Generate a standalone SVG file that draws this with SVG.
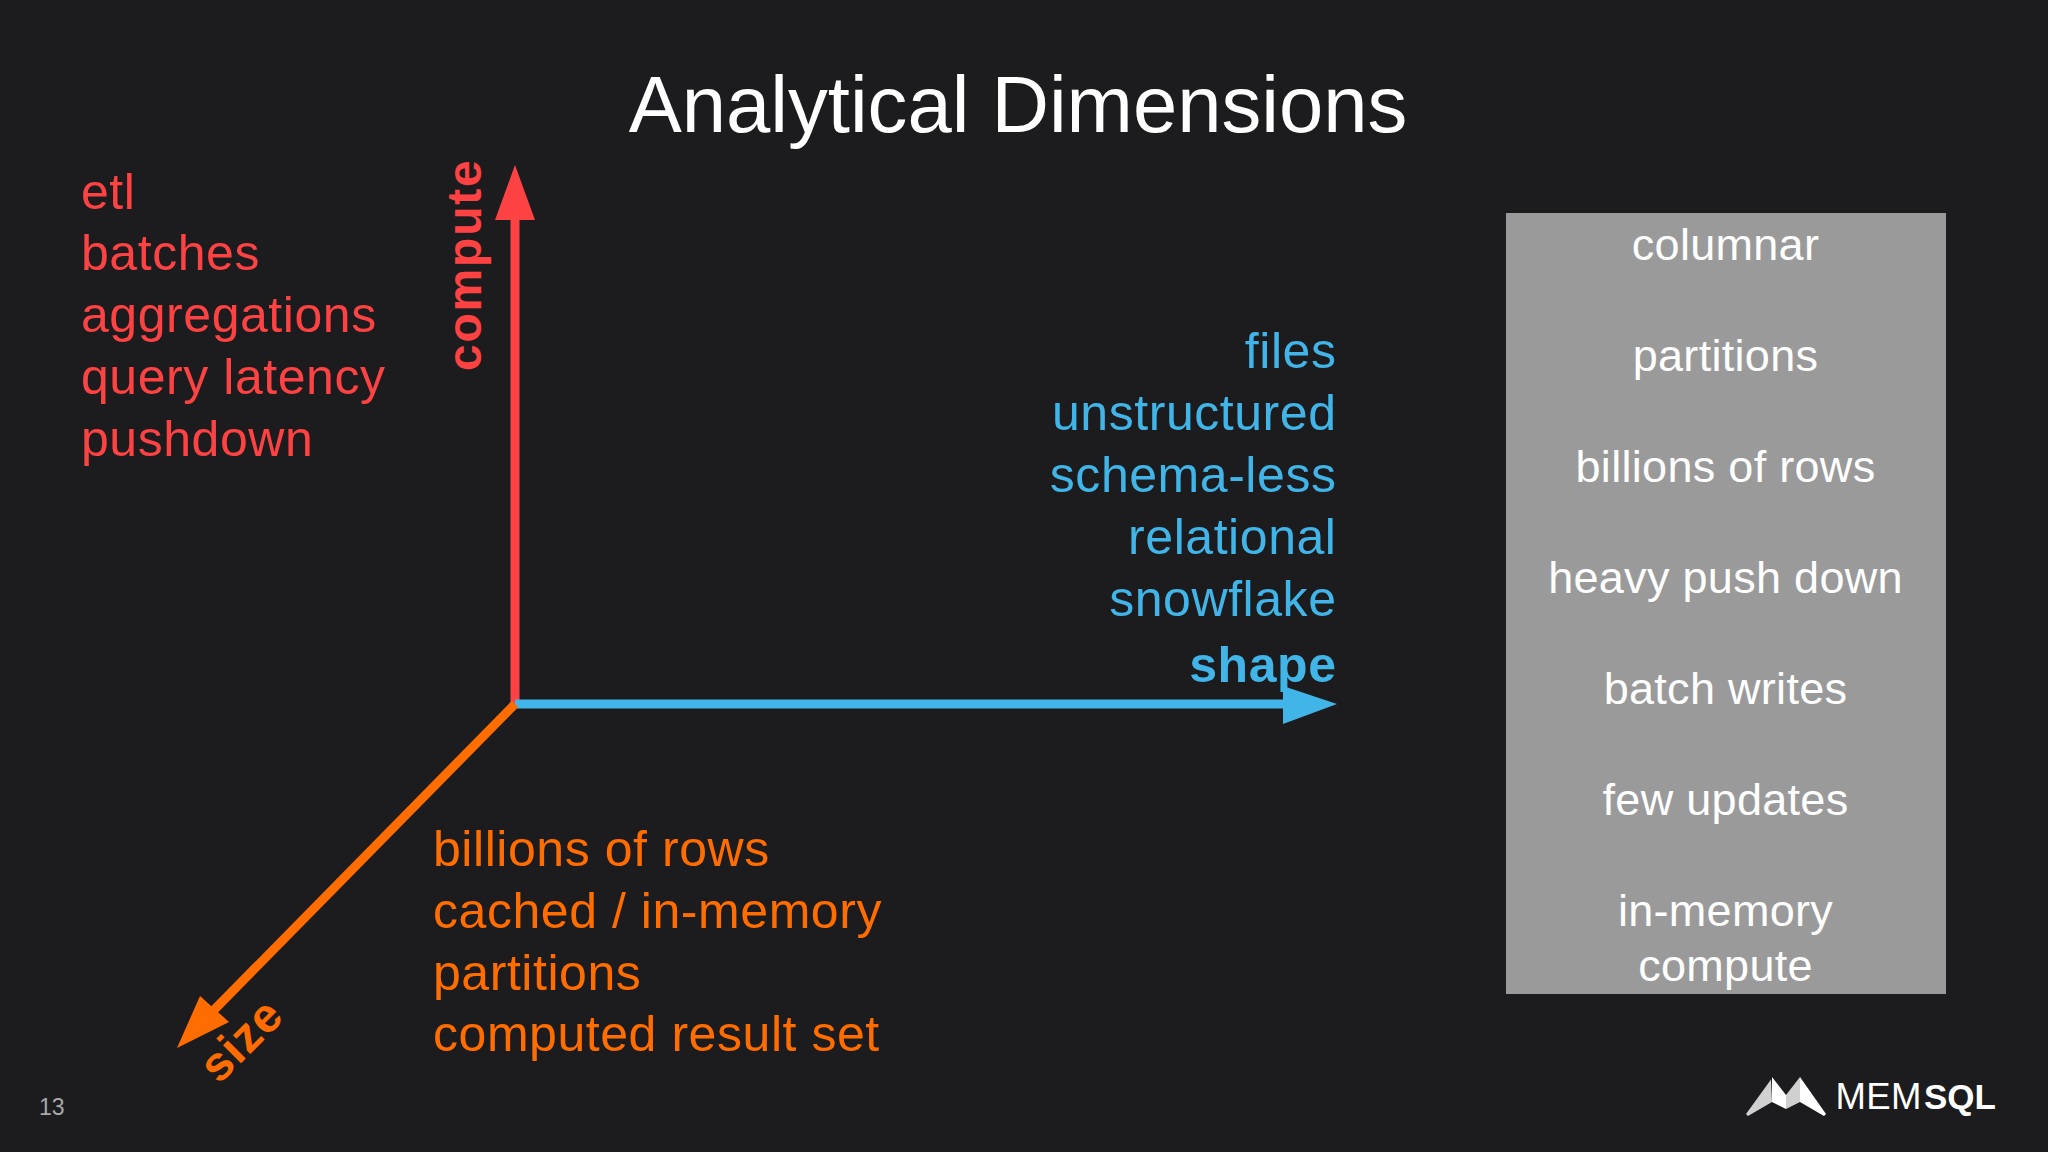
<svg xmlns="http://www.w3.org/2000/svg" width="2048" height="1152" viewBox="0 0 2048 1152">
<style>
text{font-family:"Liberation Sans",Arial,sans-serif}
.b{font-size:50px;letter-spacing:.55px}
.red{fill:#fc4242}
.blue{fill:#41b4e8}
.org{fill:#ff6d01}
.box{font-size:45px;letter-spacing:.3px;fill:#fff;text-anchor:middle}
.bold{font-weight:700}
.end{text-anchor:end}
</style>
<rect width="2048" height="1152" fill="#1c1c1e"/>
<text id="title" x="1018" y="132" font-size="79.600" fill="#fff" text-anchor="middle">Analytical Dimensions</text>
<g id="connectors">
<path d="M515 704V215" stroke="#fc4242" stroke-width="9" fill="none"/>
<polygon points="515,165 535,220 495,220" fill="#fc4242"/>
<path d="M515 704H1290" stroke="#41b4e8" stroke-width="9" fill="none"/>
<polygon points="1337,704 1283,724 1283,686" fill="#41b4e8"/>
<path d="M515 704L212 1012" stroke="#ff6d01" stroke-width="9" fill="none"/>
<polygon points="177,1048 200,996 229,1022" fill="#ff6d01"/>
</g>
<g id="compute-list" class="b red">
<text x="81" y="208.500">etl</text>
<text x="81" y="270">batches</text>
<text x="81" y="332">aggregations</text>
<text x="81" y="394">query latency</text>
<text x="81" y="456">pushdown</text>
</g>
<text id="compute-label" class="red bold" font-size="48" letter-spacing="1.8" transform="translate(481 371) rotate(-90)">compute</text>
<g id="shape-list" class="b blue end">
<text x="1336.500" y="368">files</text>
<text x="1336.500" y="430">unstructured</text>
<text x="1336.500" y="492">schema-less</text>
<text x="1336.500" y="554">relational</text>
<text x="1336.500" y="616">snowflake</text>
<text x="1336.500" y="682" class="bold">shape</text>
</g>
<g id="size-list" class="b org">
<text x="433" y="866">billions of rows</text>
<text x="433" y="928">cached / in-memory</text>
<text x="433" y="989.500">partitions</text>
<text x="433" y="1051">computed result set</text>
</g>
<text id="size-label" class="org bold" font-size="48" letter-spacing="1" transform="translate(219 1085) rotate(-45)">size</text>
<g id="summary">
<rect x="1506" y="213" width="440" height="781" fill="#9a9a9b"/>
<text class="box" x="1725.500" y="260">columnar</text>
<text class="box" x="1725.500" y="371">partitions</text>
<text class="box" x="1725.500" y="482">billions of rows</text>
<text class="box" x="1725.500" y="593">heavy push down</text>
<text class="box" x="1725.500" y="704">batch writes</text>
<text class="box" x="1725.500" y="815">few updates</text>
<text class="box" x="1725.500" y="926">in-memory</text>
<text class="box" x="1725.500" y="981">compute</text>
</g>
<text id="page-number" x="39" y="1115" font-size="23" fill="#a8a8a8">13</text>
<g id="logo">
<polygon points="1746,1114 1771,1079.500 1772,1102 1748,1116" fill="#d0d0d0"/>
<polygon points="1772,1077 1786,1095 1786,1109 1772,1102" fill="#fff"/>
<polygon points="1786,1095 1800,1077 1800,1102 1786,1109" fill="#d0d0d0"/>
<polygon points="1800,1077 1826,1114 1824,1116 1800,1102" fill="#fff"/>
<text x="1835.500" y="1108.500" font-size="36.500" font-family="Roboto,'Liberation Sans',sans-serif" font-weight="300" fill="#fff" textLength="86">MEM</text>
<text x="1924" y="1108.500" font-size="35" font-family="Lato,'Liberation Sans',sans-serif" font-weight="700" fill="#fff" textLength="72">SQL</text>
</g>
</svg>
